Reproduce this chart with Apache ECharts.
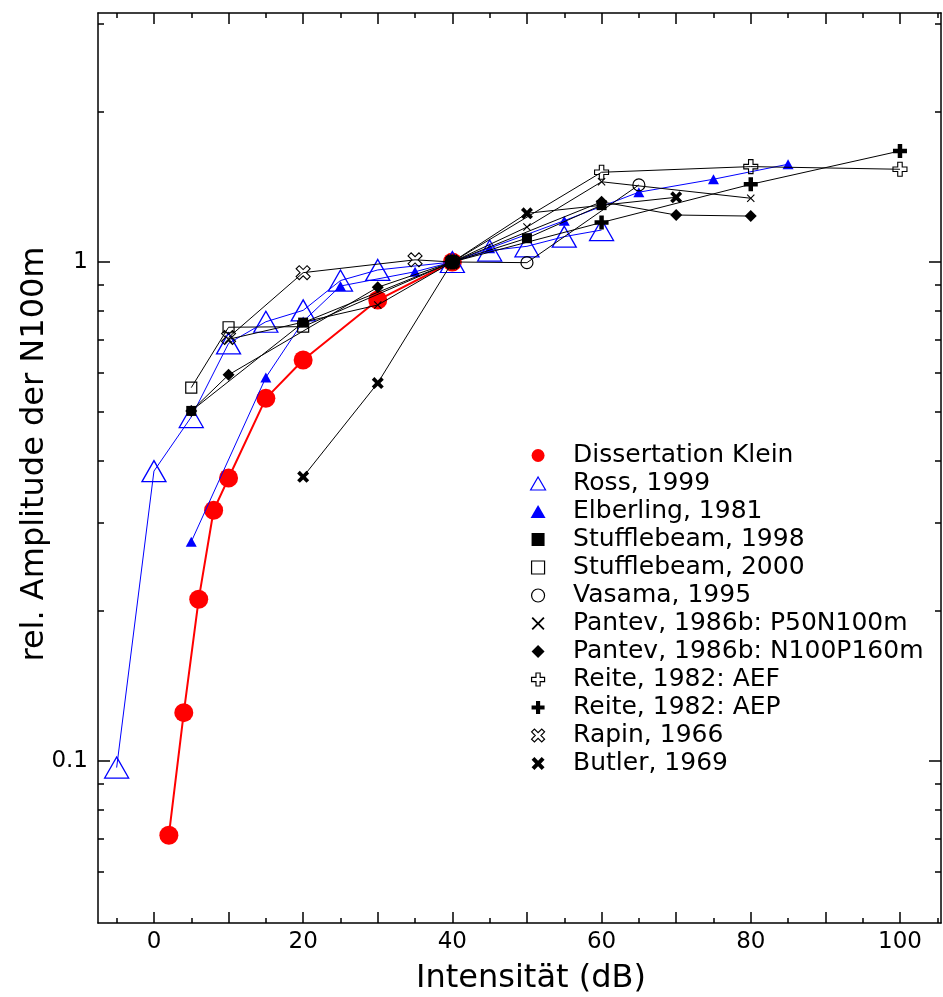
<!DOCTYPE html>
<html><head><meta charset="utf-8">
<script src="https://cdn.jsdelivr.net/npm/echarts@6/dist/echarts.min.js"></script>
<style>html,body{margin:0;padding:0;background:#fff}#c{width:943px;height:997px}</style>
</head><body><div id="c"></div>
<script>
// ---- axis ticks / labels ----
const xLabels = [0, 20, 40, 60, 80, 100];
const xMajorTicks = [0, 10, 20, 30, 40, 50, 60, 70, 80, 90, 100];
const xMinorTicks = [-5, 5, 15, 25, 35, 45, 55, 65, 75, 85, 95, 105];
const yLabels = [0.1, 1];
const yMajorTicks = [0.1, 1];
const yMinorTicks = [0.06, 0.07, 0.08, 0.09, 0.2, 0.3, 0.4, 0.5, 0.6, 0.7, 0.8, 0.9, 2, 3];

// ---- data: [Intensität dB, rel. Amplitude] ----
const klein = [[2,0.071],[4,0.125],[6,0.211],[8,0.318],[10,0.369],[15,0.533],[20,0.636],[30,0.839],[40,1]];
const ross = [[-5,0.097],[0,0.381],[5,0.489],[10,0.687],[15,0.759],[20,0.80],[25,0.918],[30,0.964],[40,1.0],[45,1.054],[50,1.075],[55,1.124],[60,1.159]];
const elberling = [[5,0.275],[15,0.587],[20,0.76],[25,0.895],[35,0.956],[40,1],[45,1.066],[55,1.21],[65,1.38],[75,1.465],[85,1.57]];
const stuff1998 = [[5,0.503],[20,0.756],[40,1],[50,1.116],[60,1.30]];
const stuff2000 = [[5,0.56],[10,0.74],[20,0.742],[40,1]];
const vasama = [[40,1],[50,0.997],[65,1.427]];
const pantevP50 = [[10,0.70],[30,0.82],[40,1],[50,1.175],[60,1.448],[80,1.342]];
const pantevN100 = [[5,0.503],[10,0.594],[30,0.89],[40,1],[60,1.32],[70,1.242],[80,1.236]];
const reiteAEF = [[40,1],[60,1.513],[80,1.553],[100,1.534]];
const reiteAEP = [[40,1],[60,1.20],[80,1.431],[100,1.669]];
const rapin = [[10,0.706],[20,0.952],[35,1.01],[40,1]];
const butler = [[20,0.371],[30,0.572],[40,1],[50,1.252],[70,1.348]];

const names = ['Dissertation Klein','Ross, 1999','Elberling, 1981','Stufflebeam, 1998','Stufflebeam, 2000','Vasama, 1995','Pantev, 1986b: P50N100m','Pantev, 1986b: N100P160m','Reite, 1982: AEF','Reite, 1982: AEP','Rapin, 1966','Butler, 1969'];

const PLUS = 'path://M3.4,0H6.6V3.4H10V6.6H6.6V10H3.4V6.6H0V3.4H3.4Z';
const XTHICK = 'path://M0,2.2L2.2,0L5,2.8L7.8,0L10,2.2L7.2,5L10,7.8L7.8,10L5,7.2L2.2,10L0,7.8L2.8,5Z';
const XTHIN = 'path://M0,1L1,0L5,4L9,0L10,1L6,5L10,9L9,10L5,6L1,10L0,9L4,5Z';
const TRI = 'path://M5,0L10,8.7L0,8.7Z';
const SQ = 'path://M0,0H10V10H0Z';
const DIA = 'path://M5,0L10,5L5,10L0,5Z';
const NONE = 'rgba(0,0,0,0)';

const FONT = 'DejaVu Sans';
const xMin = -7.5, xMax = 105.5, yMin = 0.04735, yMax = 3.155;

const styles = [
  {d: klein,      sym: 'circle',   icon: 'circle', size: 19,      fill: '#ff0000', stroke: '#ff0000', line: '#ff0000', lw: 2},
  {d: ross,       sym: 'triangle', icon: TRI,      size: [24,21], fill: NONE,      stroke: '#0000ff', line: '#0000ff', lw: 1, bw: 1.3},
  {d: elberling,  sym: 'triangle', icon: TRI,      size: [11,10], fill: '#0000ff', stroke: '#0000ff', line: '#0000ff', lw: 1},
  {d: stuff1998,  sym: 'rect',     icon: SQ,       size: 10,      fill: '#000',    stroke: '#000',    line: '#000',    lw: 1},
  {d: stuff2000,  sym: 'rect',     icon: SQ,       size: 11,      fill: NONE,      stroke: '#000',    line: '#000',    lw: 1, bw: 1.2},
  {d: vasama,     sym: 'circle',   icon: 'circle', size: 12,      fill: NONE,      stroke: '#000',    line: '#000',    lw: 1, bw: 1.2},
  {d: pantevP50,  sym: XTHIN,      icon: XTHIN,    size: 8,       fill: '#000',    stroke: '#000',    line: '#000',    lw: 1},
  {d: pantevN100, sym: 'diamond',  icon: DIA,      size: 12,      fill: '#000',    stroke: '#000',    line: '#000',    lw: 1},
  {d: reiteAEF,   sym: PLUS,       icon: PLUS,     size: 14,      fill: NONE,      stroke: '#000',    line: '#000',    lw: 1, bw: 1.1},
  {d: reiteAEP,   sym: PLUS,       icon: PLUS,     size: 14,      fill: '#000',    stroke: '#000',    line: '#000',    lw: 1},
  {d: rapin,      sym: XTHICK,     icon: XTHICK,   size: 14,      fill: NONE,      stroke: '#000',    line: '#000',    lw: 1, bw: 1.1},
  {d: butler,     sym: XTHICK,     icon: XTHICK,   size: 12,      fill: '#000',    stroke: '#000',    line: '#000',    lw: 1}
];

const series = styles.map((s, i) => ({
  name: names[i], type: 'line', data: s.d,
  xAxisIndex: 0, yAxisIndex: 0,
  symbol: s.sym, symbolSize: s.size, symbolKeepAspect: false,
  showSymbol: true,
  lineStyle: {color: s.line, width: s.lw},
  itemStyle: {color: s.fill, borderColor: s.stroke, borderWidth: s.bw || 0},
  emphasis: {disabled: true},
  z: 2 + i * 0.01
}));

const legendData = styles.map((s, i) => ({
  name: names[i], icon: s.icon,
  itemStyle: {color: s.fill, borderColor: s.stroke, borderWidth: s.bw ? 1.2 : 0}
}));

function xAx(pos, ticks, len, showLine, labels) {
  return {
    type: 'value', position: pos, min: xMin, max: xMax,
    axisLine: {show: showLine, onZero: false, lineStyle: {color: '#000', width: 1.5}},
    axisTick: {show: true, inside: true, length: len, customValues: ticks, lineStyle: {color: '#000', width: 1.5}},
    axisLabel: labels ? {show: true, customValues: labels, margin: 8, fontFamily: FONT, fontSize: 23, color: '#000'} : {show: false},
    splitLine: {show: false}
  };
}
function yAx(pos, ticks, len, showLine, labels) {
  return {
    type: 'log', logBase: 10, position: pos, min: yMin, max: yMax,
    axisLine: {show: showLine, onZero: false, lineStyle: {color: '#000', width: 1.5}},
    axisTick: {show: true, inside: true, length: len, customValues: ticks, lineStyle: {color: '#000', width: 1.5}},
    axisLabel: labels ? {show: true, customValues: labels, margin: 10, fontFamily: FONT, fontSize: 23, color: '#000',
      formatter: v => String(v)} : {show: false},
    splitLine: {show: false}
  };
}

const option = {
  animation: false,
  backgroundColor: '#fff',
  grid: {left: 98, right: 2, top: 13, bottom: 74, containLabel: false},
  xAxis: [
    xAx('bottom', xMajorTicks, 11, true, xLabels),
    xAx('top', xMajorTicks, 11, true, null),
    xAx('top', xMinorTicks, 5, false, null),     // flips to bottom
    xAx('bottom', xMinorTicks, 5, false, null)   // flips to top
  ],
  yAxis: [
    yAx('left', yMajorTicks, 12, true, yLabels),
    yAx('right', yMajorTicks, 12, true, null),
    yAx('right', yMinorTicks, 6, false, null),   // flips to left
    yAx('left', yMinorTicks, 6, false, null)     // flips to right
  ],
  legend: {
    orient: 'vertical', left: 530, top: 443, padding: 0,
    itemWidth: 60, itemHeight: 13, itemGap: 3, symbolKeepAspect: true,
    selectedMode: false,
    textStyle: {fontFamily: FONT, fontSize: 25, lineHeight: 25, color: '#000'},
    data: legendData
  },
  graphic: [
    {type: 'text', x: 531, y: 979, style: {text: 'Intensität (dB)', font: '32px "DejaVu Sans"', fill: '#000', align: 'center', verticalAlign: 'middle'}},
    {type: 'text', x: 35, y: 454, rotation: Math.PI / 2, style: {text: 'rel. Amplitude der N100m', font: '32px "DejaVu Sans"', fill: '#000', align: 'center', verticalAlign: 'middle'}}
  ],
  series: series
};

const chart = echarts.init(document.getElementById('c'), null, {renderer: 'canvas'});
chart.setOption(option);
</script>
</body></html>
